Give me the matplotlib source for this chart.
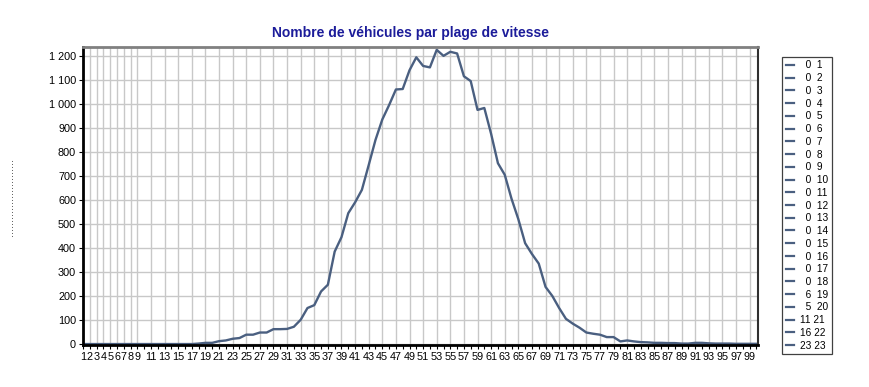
import matplotlib.pyplot as plt
from matplotlib.lines import Line2D
from matplotlib.ticker import MultipleLocator, FuncFormatter

# DONNEES

vitesses = list(range(1, 101))
vehicules = [
    0, 0, 0, 0, 0, 0, 0, 0, 0, 0,
    0, 0, 0, 0, 0, 0, 0, 2, 5, 5,
    12, 15, 22, 25, 39, 39, 48, 48, 62, 62,
    63, 72, 101, 150, 162, 219, 247, 385, 445, 545,
    590, 642, 745, 850, 935, 995, 1060, 1062, 1140, 1194,
    1158, 1152, 1225, 1200, 1217, 1210, 1115, 1095, 975, 983,
    875, 753, 705, 605, 520, 420, 375, 335, 238, 200,
    150, 105, 85, 68, 48, 43, 39, 29, 29, 11,
    15, 11, 8, 7, 5, 5, 4, 4, 2, 2,
    5, 5, 3, 2, 2, 2, 1, 1, 1, 1,
]
graduations_x = list(range(1, 10)) + list(range(11, 100, 2))
legende_a = [0] * 18 + [6, 5, 11, 16, 23]
legende_b = list(range(1, 24))

titre = 'Nombre de véhicules par plage de vitesse'
couleur_ligne = '#4a5f80'

plt.rcParams['font.family'] = ['Liberation Sans', 'DejaVu Sans']

fig = plt.figure(figsize=(8.7, 3.87), dpi=100)
ax = fig.add_axes([0.0954, 0.1085, 0.7756, 0.7701])

ax.plot(vitesses, vehicules, color=couleur_ligne, linewidth=1.7)

ax.set_xlim(1, 100.2)
ax.set_ylim(-4, 1237)

ax.set_xticks(graduations_x)
ax.set_xticklabels([str(v) for v in graduations_x], fontsize=7.8)
ax.xaxis.set_minor_locator(MultipleLocator(1))
ax.set_yticks(range(0, 1201, 100))
ax.yaxis.set_major_formatter(FuncFormatter(lambda v, p: f'{int(v):,}'.replace(',', ' ')))
ax.tick_params(axis='y', labelsize=7.8, length=3, width=0.8, pad=2)
ax.tick_params(axis='x', which='both', length=3, width=0.8, pad=2, direction='out')

ax.grid(True, which='major', color='#c8c8c8', linewidth=1.0)
ax.set_axisbelow(True)

ax.spines['left'].set_color('black')
ax.spines['left'].set_linewidth(2)
ax.spines['bottom'].set_color('black')
ax.spines['bottom'].set_linewidth(2)
ax.spines['top'].set_color('#808080')
ax.spines['top'].set_linewidth(2)
ax.spines['right'].set_color('#303030')
ax.spines['right'].set_linewidth(1.5)

fig.text(0.472, 0.915, titre, ha='center', va='center', fontsize=10,
         fontweight='bold', color='#1c1c9a')

# petit libelle pointille a gauche
fig.text(0.012, 0.49, '.' * 26, rotation=90, ha='center', va='center',
         fontsize=8, color='#333333')

# LEGENDE
poignees = [Line2D([0], [0], color=couleur_ligne, linewidth=1.6) for _ in legende_b]
etiquettes = [f'{a:>2}\u2007{b}'.replace(' ', '\u2007') if a < 10 else f'{a} {b}'
              for a, b in zip(legende_a, legende_b)]
leg = fig.legend(poignees, etiquettes, loc='upper left', bbox_to_anchor=(0.899, 0.853),
                 fontsize=7.3, handlelength=0.8, handletextpad=0.6, labelspacing=0.27,
                 borderpad=0.35, fancybox=False, framealpha=1, edgecolor='#404040',
                 borderaxespad=0)
leg.get_frame().set_linewidth(0.9)

fig.savefig('out.png', dpi=100)
